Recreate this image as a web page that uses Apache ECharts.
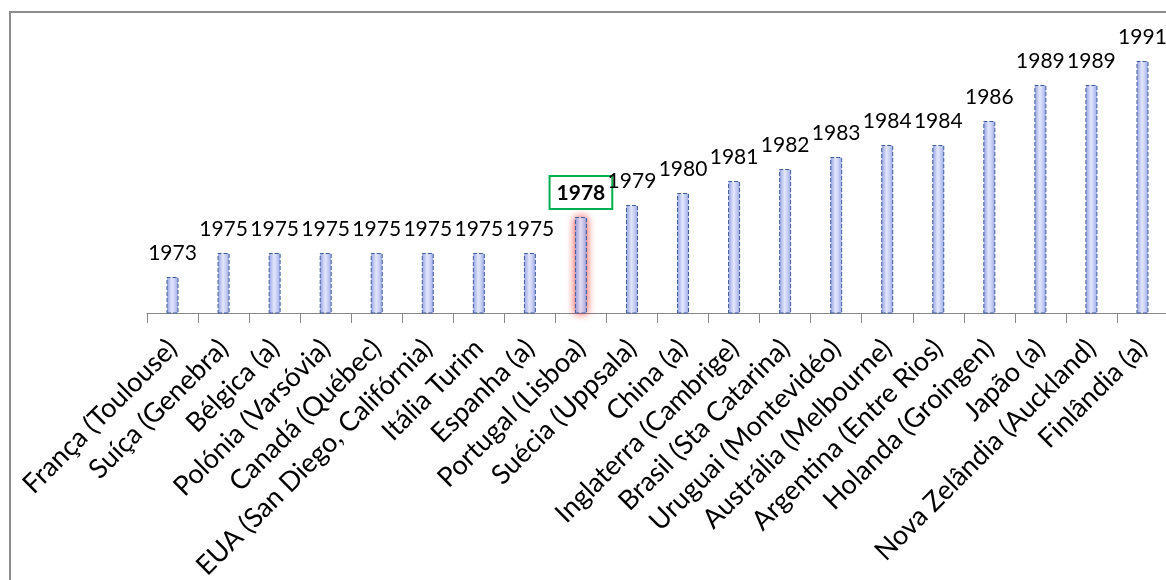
<!DOCTYPE html>
<html><head><meta charset="utf-8">
<script src="https://cdn.jsdelivr.net/npm/echarts@6/dist/echarts.min.js"></script>
<style>html,body{margin:0;padding:0;background:#fff}#c{width:1166px;height:580px}</style>
</head><body><div id="c"></div>
<script>
const categories = ["França (Toulouse)","Suíça (Genebra)","Bélgica (a)","Polónia (Varsóvia)","Canadá (Québec)","EUA (San Diego, Califórnia)","Itália Turim","Espanha (a)","Portugal (Lisboa)","Suécia (Uppsala)","China (a)","Inglaterra (Cambrige)","Brasil (Sta Catarina)","Uruguai (Montevidéo)","Austrália (Melbourne)","Argentina (Entre Rios)","Holanda (Groingen)","Japão (a)","Nova Zelândia (Auckland)","Finlândia (a)"];
const years = [1973,1975,1975,1975,1975,1975,1975,1975,1978,1979,1980,1981,1982,1983,1984,1984,1986,1989,1989,1991];
const highlightIndex = 8;
const yMin = 1970, yMax = 1995;

const barColor = {type:'linear',x:0,y:0,x2:1,y2:0,colorStops:[
  {offset:0,color:'#8f9ce2'},{offset:0.45,color:'#e3e7fc'},{offset:0.65,color:'#cdd4f7'},{offset:1,color:'#98a4e4'}]};

const data = years.map((v,i)=>{
  const d = {value:v};
  if(i===highlightIndex){
    d.itemStyle = {shadowColor:'rgba(255,0,0,0.75)',shadowBlur:8};
    d.label = {fontWeight:'bold',borderColor:'#00b050',borderWidth:2,padding:[7,7,5,7],distance:8};
  }
  return d;
});

const chart = echarts.init(document.getElementById('c'));
chart.setOption({
  animation:false,
  grid:{left:147,top:13,bottom:267,width:1021,containLabel:false,outerBoundsMode:'none'},
  graphic:[{type:'rect',shape:{x:10,y:12,width:1300,height:700},style:{fill:'none',stroke:'#8c8c8c',lineWidth:2}}],
  xAxis:{type:'category',data:categories,
    axisLine:{lineStyle:{color:'#888',width:1}},
    axisTick:{show:true,length:10,lineStyle:{color:'#888'}},
    axisLabel:{interval:0,rotate:45,color:'#000',fontFamily:'Lato',fontSize:27,margin:31}},
  yAxis:{type:'value',min:yMin,max:yMax,show:false,splitLine:{show:false}},
  series:[{type:'bar',data:data,barWidth:12,
    itemStyle:{color:barColor,borderColor:'#3f5f9c',borderWidth:1,borderType:'dashed'},
    label:{show:true,position:'top',distance:13,color:'#000',fontFamily:'Lato',fontSize:21}}]
});
</script></body></html>
